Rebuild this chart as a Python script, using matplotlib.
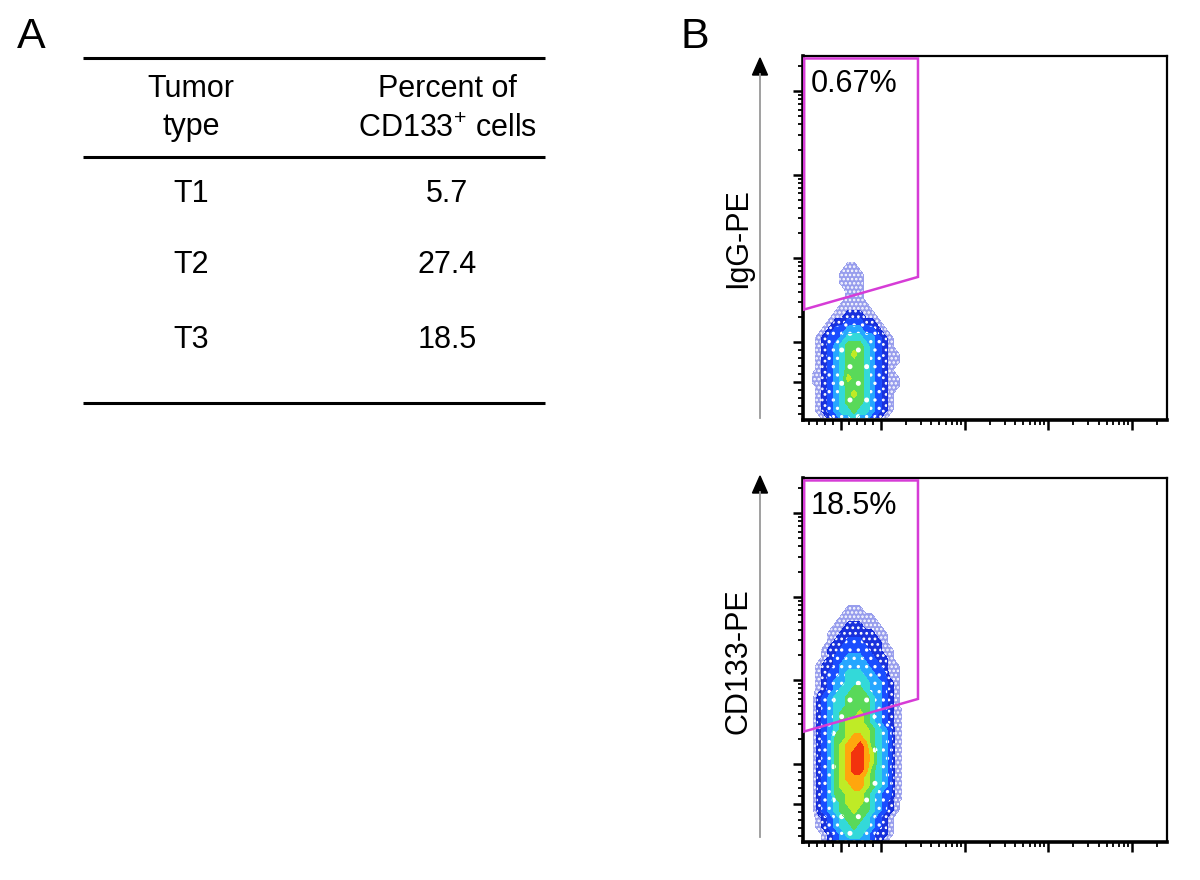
import numpy as np
import matplotlib
matplotlib.use("Agg")
import matplotlib.pyplot as plt
from matplotlib.colors import ListedColormap, BoundaryNorm
from matplotlib.ticker import FixedLocator, NullFormatter
from matplotlib.patches import Polygon

plt.rcParams['font.family'] = ['Liberation Sans', 'DejaVu Sans']
plt.rcParams['mathtext.default'] = 'regular'
plt.rcParams['hatch.color'] = 'white'
plt.rcParams['hatch.linewidth'] = 1.2

# ---------------- data ----------------
panel_labels = ["A", "B"]
header_col1 = ["Tumor", "type"]
header_col2 = ["Percent of", "CD133$^{+}$ cells"]
tumor_types = ["T1", "T2", "T3"]
percent_cd133 = ["5.7", "27.4", "18.5"]

flow_ylabels = ["IgG-PE", "CD133-PE"]
gate_percents = ["0.67%", "18.5%"]

# gate polygon (data units, biexponential-like axes)
gate_x = [-92, 277, 277, -92]
gate_y = [245000, 245000, 600, 245]

axis_limits = (-95, 262144)
major_ticks = [0, 1e2, 1e3, 1e4, 1e5]
minor_ticks = [-80, -60, -40, -20, 20, 40, 60, 80] + \
    [k * 10 ** d for d in (2, 3, 4) for k in range(2, 10)] + [2e5]

# event-density grids (rows top -> bottom, 0 = no events, 9 = densest)
igg_x_range = (-72, 178)
igg_y_range = (-90, 1000)
igg_density = [
    "0000000000000000",
    "0000001100000000",
    "0000011110000000",
    "0000011110000000",
    "0000001110000000",
    "0000001110000000",
    "0000011111000000",
    "0000112221100000",
    "0001223332210000",
    "0012334443321000",
    "0123345554432100",
    "0123456665432100",
    "0123456765432110",
    "0123456665432110",
    "0123456665432100",
    "1123457665432110",
    "0123456665432110",
    "0123456765432100",
    "0123456665432100",
    "0123455655432100",
    "0012344544321000",
]

cd133_x_range = (-72, 178)
cd133_y_range = (-95, 8600)
cd133_density = [
    "0000000000000000",
    "0000001110000000",
    "0000011111100000",
    "0000112221110000",
    "0001122222211000",
    "0001223332221000",
    "0012233333221100",
    "0012334443322100",
    "0122344444332110",
    "0123345554433110",
    "0123445555443210",
    "0123455665443210",
    "0234556666543210",
    "0234556666543210",
    "0234566676543211",
    "0234567776543211",
    "0234567777654311",
    "0234667887654311",
    "0234678898654311",
    "0234678998754311",
    "0234678998754311",
    "0234678998654311",
    "0234678887654311",
    "0234677887654311",
    "0234667776543311",
    "0234567776543210",
    "0234566766543210",
    "0123456665432100",
    "0123455655432100",
    "0012345554322100",
    "0012344444321000",
]

# ---------------- style ----------------
FS = 22
gate_color = '#d63cd6'
band_colors = [
    (0.10, 0.15, 0.85, 0.45),
    (0.00, 0.10, 0.85, 0.90),
    (0.10, 0.30, 1.00, 1.0),
    (0.15, 0.65, 1.00, 1.0),
    (0.20, 0.85, 0.85, 1.0),
    (0.35, 0.85, 0.35, 1.0),
    (0.75, 0.92, 0.15, 1.0),
    (1.00, 0.65, 0.05, 1.0),
    (0.95, 0.20, 0.05, 1.0),
]
band_hatches = ['....', '...', '..', '..', '.', '.', None, None, None]
levels = np.arange(0.5, 10.0, 1.0)
cmap = ListedColormap(band_colors)
norm = BoundaryNorm(levels, cmap.N)

fig = plt.figure(figsize=(12, 8.8), dpi=100)

# overlay in pixel coordinates for table and annotations
ov = fig.add_axes([0, 0, 1, 1])
ov.set_xlim(0, 1200)
ov.set_ylim(880, 0)
ov.axis('off')
ov.set_zorder(0)

# panel labels
ov.text(17, 48, panel_labels[0], fontsize=31, ha='left', va='baseline')
ov.text(680, 48, panel_labels[1], fontsize=31, ha='left', va='baseline')

# table (panel A)
for yl in (58, 157, 403):
    ov.plot([83, 545], [yl, yl], color='black', lw=2.2, solid_capstyle='butt')
col1_x, col2_x = 191, 447
ov.text(col1_x, 97, header_col1[0], fontsize=FS, ha='center', va='baseline')
ov.text(col1_x, 135, header_col1[1], fontsize=FS, ha='center', va='baseline')
ov.text(col2_x, 97, header_col2[0], fontsize=FS, ha='center', va='baseline')
ov.text(col2_x, 137, header_col2[1], fontsize=FS, ha='center', va='baseline')
row_base = [202, 273, 348]
for t, p, yb in zip(tumor_types, percent_cd133, row_base):
    ov.text(col1_x, yb, t, fontsize=FS, ha='center', va='baseline')
    ov.text(col2_x, yb, p, fontsize=FS, ha='center', va='baseline')


def draw_density(ax, grid, xr, yr):
    Z = np.array([[int(c) for c in row] for row in grid], float)[::-1]
    ny, nx = Z.shape
    tx = ax.xaxis.get_transform()
    ty = ax.yaxis.get_transform()
    xt = np.linspace(*tx.transform(np.array(xr, float)), nx)
    yt = np.linspace(*ty.transform(np.array(yr, float)), ny)
    xc = tx.inverted().transform(xt)
    yc = ty.inverted().transform(yt)
    ax.contourf(xc, yc, Z, levels=levels, cmap=cmap, norm=norm,
                hatches=band_hatches, zorder=2)


panels = [
    dict(rect=[803 / 1200, 1 - 420 / 880, 364 / 1200, 364 / 880],
         grid=igg_density, xr=igg_x_range, yr=igg_y_range,
         label=flow_ylabels[0], pct=gate_percents[0],
         arrow=(58, 418), label_y=238),
    dict(rect=[803 / 1200, 1 - 842 / 880, 364 / 1200, 364 / 880],
         grid=cd133_density, xr=cd133_x_range, yr=cd133_y_range,
         label=flow_ylabels[1], pct=gate_percents[1],
         arrow=(476, 837), label_y=661),
]

for p in panels:
    ax = fig.add_axes(p['rect'])
    ax.set_zorder(1)
    ax.set_xscale('symlog', linthresh=100, linscale=0.43)
    ax.set_yscale('symlog', linthresh=100, linscale=0.43)
    ax.set_xlim(*axis_limits)
    ax.set_ylim(*axis_limits)
    for axis in (ax.xaxis, ax.yaxis):
        axis.set_major_locator(FixedLocator(major_ticks))
        axis.set_minor_locator(FixedLocator(minor_ticks))
        axis.set_major_formatter(NullFormatter())
        axis.set_minor_formatter(NullFormatter())
    ax.tick_params(which='major', direction='out', length=7, width=1.8)
    ax.tick_params(which='minor', direction='out', length=3.5, width=1.3)
    ax.spines['left'].set_linewidth(2.6)
    ax.spines['bottom'].set_linewidth(2.6)
    ax.spines['top'].set_linewidth(1.6)
    ax.spines['right'].set_linewidth(1.6)

    draw_density(ax, p['grid'], p['xr'], p['yr'])

    gate = Polygon(np.column_stack([gate_x, gate_y]), closed=True, fill=False,
                   edgecolor=gate_color, lw=1.8, zorder=3)
    ax.add_patch(gate)
    ax.text(0.02, 0.902, p['pct'], transform=ax.transAxes, fontsize=FS,
            ha='left', va='baseline', zorder=4)

    # gray axis arrow and label
    tip, bottom = p['arrow']
    ov.plot([760, 760], [bottom, tip + 16], color='#999999', lw=1.3)
    ov.add_patch(Polygon([(760, tip), (752.5, tip + 17), (767.5, tip + 17)],
                         closed=True, color='black'))
    ov.text(738, p['label_y'], p['label'], rotation=90, fontsize=FS,
            ha='center', va='center')

fig.savefig('out.png', dpi=100)
